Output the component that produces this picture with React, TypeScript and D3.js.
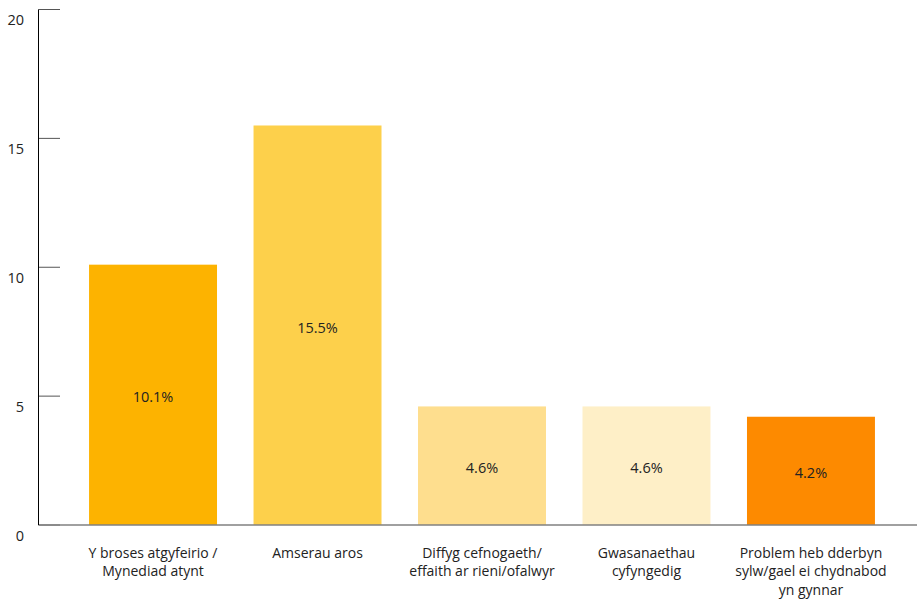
import React from "react";
import * as d3 from "d3";

const categories: string[][] = [
  ["Y broses atgyfeirio /", "Mynediad atynt"],
  ["Amserau aros"],
  ["Diffyg cefnogaeth/", "effaith ar rieni/ofalwyr"],
  ["Gwasanaethau", "cyfyngedig"],
  ["Problem heb dderbyn", "sylw/gael ei chydnabod", "yn gynnar"],
];
const values: number[] = [10.1, 15.5, 4.6, 4.6, 4.2];
const valueLabels: string[] = ["10.1%", "15.5%", "4.6%", "4.6%", "4.2%"];
const colors: string[] = ["#FDB300", "#FDD04B", "#FEDE8E", "#FEEFC7", "#FD8A00"];
const yTicks: number[] = [0, 5, 10, 15, 20];

const W = 917;
const H = 601;
const axisX = 38.5;
const y0 = 525;
const yTop = 9.5;
const font = "'Open Sans', 'DejaVu Sans', sans-serif";

export default function App() {
  const idx = values.map((_, i) => String(i));
  const x = d3
    .scaleBand<string>()
    .domain(idx)
    .range([42.5, 921.5])
    .paddingInner(0.222)
    .paddingOuter(0.283);
  const y = d3.scaleLinear().domain([0, 20]).range([y0, yTop]);

  return (
    <svg
      width={W}
      height={H}
      style={{ position: "absolute", left: 0, top: 0, background: "#fff" }}
    >
      {values.map((v, i) => {
        const bx = x(String(i))!;
        const bw = x.bandwidth();
        const top = y(v);
        return (
          <g key={i}>
            <rect x={bx} y={top} width={bw} height={y(0) - top} fill={colors[i]} />
            <text
              x={bx + bw / 2}
              y={(top + y(0)) / 2 + 2}
              textAnchor="middle"
              dominantBaseline="central"
              fontFamily={font}
              fontSize={14.5}
              fill="#222"
            >
              {valueLabels[i]}
            </text>
            {categories[i].map((line, j) => (
              <text
                key={j}
                x={bx + bw / 2}
                y={552 + j * 18.5}
                textAnchor="middle"
                dominantBaseline="central"
                fontFamily={font}
                fontSize={14}
                fill="#222"
              >
                {line}
              </text>
            ))}
          </g>
        );
      })}
      {yTicks.map((t) => (
        <g key={t}>
          <line x1={axisX} x2={60} y1={y(t)} y2={y(t)} stroke="#555" strokeWidth={1} />
          <text
            x={24}
            y={y(t) + 10}
            textAnchor="end"
            dominantBaseline="central"
            fontFamily={font}
            fontSize={14.5}
            fill="#222"
          >
            {t}
          </text>
        </g>
      ))}
      <line x1={axisX} x2={W} y1={y0} y2={y0} stroke="#808080" strokeWidth={1.5} />
      <line x1={axisX} x2={axisX} y1={yTop} y2={y0} stroke="#000" strokeWidth={1} />
    </svg>
  );
}
